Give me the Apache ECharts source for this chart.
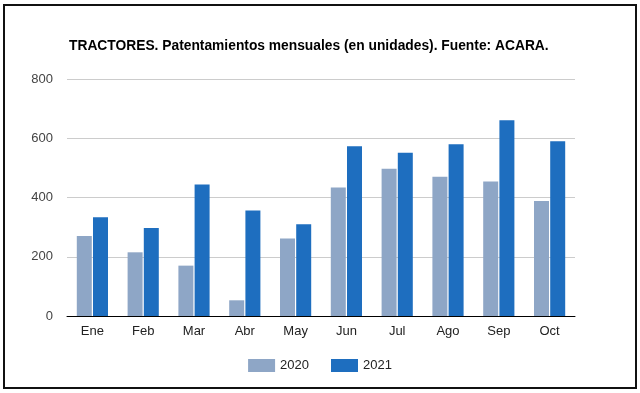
<!DOCTYPE html>
<html><head><meta charset="utf-8">
<script src="https://cdn.jsdelivr.net/npm/echarts@6/dist/echarts.min.js"></script>
<style>
html,body{margin:0;padding:0;background:#fff;}
#frame{position:absolute;left:3px;top:4px;width:630px;height:381px;border:2px solid #111;}
#c{position:absolute;left:0;top:0;width:640px;height:393px;}
</style></head>
<body>
<div id="frame"></div>
<div id="c"></div>
<script>
const categories = ["Ene","Feb","Mar","Abr","May","Jun","Jul","Ago","Sep","Oct"];
const values2020 = [270, 215, 170, 53, 262, 434, 497, 470, 454, 388];
const values2021 = [333, 297, 444, 356, 310, 573, 551, 580, 661, 590];
const yTicks = [0, 200, 400, 600, 800];

const chart = echarts.init(document.getElementById('c'), null, {renderer:'canvas'});
chart.setOption({
  backgroundColor: 'transparent',
  animation: false,
  title: {
    text: 'TRACTORES. Patentamientos mensuales (en unidades). Fuente: ACARA.',
    left: 64, top: 34,
    textStyle: {fontFamily: 'Liberation Sans, Arial', fontSize: 13.8, fontWeight: 'bold', color: '#000'}
  },
  legend: {
    data: ['2020','2021'],
    left: 'center', top: 354,
    itemWidth: 27, itemHeight: 13, itemGap: 22,
    icon: 'rect',
    textStyle: {fontFamily: 'Liberation Sans, Arial', fontSize: 13, color: '#222'}
  },
  grid: {left: 67, right: 65, top: 79, bottom: 77, containLabel: false},
  xAxis: {
    type: 'category', data: categories,
    axisLine: {lineStyle: {color: '#000', width: 1}},
    axisTick: {show: false},
    axisLabel: {fontFamily: 'Liberation Sans, Arial', fontSize: 13, color: '#222', margin: 9}
  },
  yAxis: {
    type: 'value', min: yTicks[0], max: yTicks[yTicks.length-1], interval: 200,
    axisLine: {show: false}, axisTick: {show: false},
    axisLabel: {fontFamily: 'Liberation Sans, Arial', fontSize: 13, color: '#444', margin: 14},
    splitLine: {lineStyle: {color: '#ccc', width: 1}}
  },
  series: [
    {name: '2020', type: 'bar', data: values2020, barWidth: 15, barGap: '8%',
     itemStyle: {color: '#8ea6c6'}},
    {name: '2021', type: 'bar', data: values2021, barWidth: 15,
     itemStyle: {color: '#1e6ebf'}}
  ]
});
</script>
</body></html>
